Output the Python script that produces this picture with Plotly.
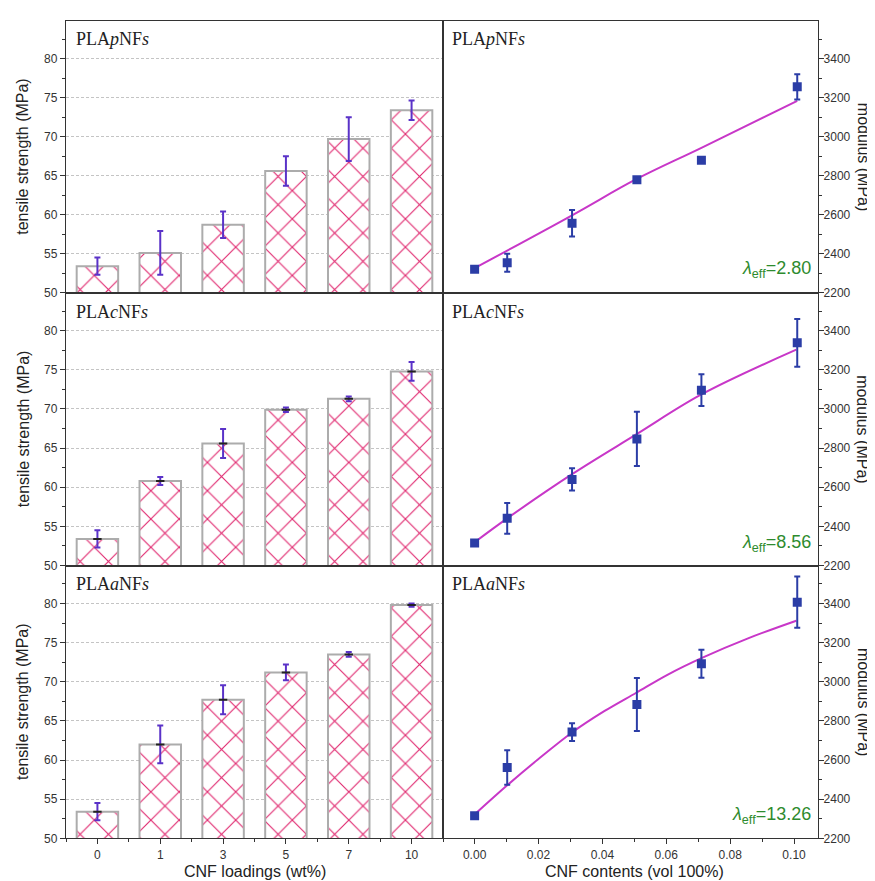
import plotly.graph_objects as go

# ---------------- data ----------------
categories = ['0', '1', '3', '5', '7', '10']

ts_p = [53.4, 55.1, 58.7, 65.6, 69.7, 73.4]
ts_p_err = [1.1, 2.8, 1.7, 1.9, 2.8, 1.25]
ts_c = [53.4, 60.8, 65.6, 69.9, 71.3, 74.8]
ts_c_err = [1.1, 0.5, 1.85, 0.3, 0.3, 1.2]
ts_a = [53.4, 62.0, 67.7, 71.2, 73.5, 79.8]
ts_a_err = [1.1, 2.4, 1.85, 1.0, 0.3, 0.2]

vol = [0.0, 0.0102, 0.0305, 0.0508, 0.071, 0.101]
mod_p = [2321, 2354, 2556, 2779, 2880, 3256]
mod_p_err = [10, 46, 68, 10, 8, 65]
mod_c = [2315, 2441, 2640, 2847, 3096, 3338]
mod_c_err = [10, 78, 57, 139, 81, 122]
mod_a = [2315, 2562, 2743, 2884, 3092, 3407]
mod_a_err = [10, 88, 45, 135, 72, 131]

fit_p_x = [0.0, 0.0305, 0.0506, 0.071, 0.101]
fit_p_y = [2326, 2597, 2782, 2943, 3184]
fit_c_x = [0.0, 0.0102, 0.0305, 0.0506, 0.071, 0.1007]
fit_c_y = [2319, 2441, 2667, 2870, 3074, 3303]
fit_a_x = [0.0, 0.0102, 0.0198, 0.0305, 0.0407, 0.0506, 0.0605, 0.071, 0.0856, 0.1007]
fit_a_y = [2322, 2471, 2603, 2741, 2851, 2944, 3037, 3121, 3222, 3312]

panel_names = ['PLA<i>p</i>NF<i>s</i>', 'PLA<i>c</i>NF<i>s</i>', 'PLA<i>a</i>NF<i>s</i>']
lambdas = ['2.80', '8.56', '13.26']

# ---------------- layout geometry ----------------
W, H = 875, 881
xl = (58 / W, 435 / W)
xr = (435 / W, 810 / W)
rows_px = [(13, 287), (287, 562), (562, 837)]
ydom = [(1 - b / H, 1 - t / H) for (t, b) in rows_px]

PINK = '#e0286f'
PURPLE = '#5a32c8'
BLUE = '#2b3da6'
MAGENTA = '#c837c8'
GREEN = '#2e8b2e'
AXC = '#333333'

fig = go.Figure()

bars = [(ts_p, ts_p_err), (ts_c, ts_c_err), (ts_a, ts_a_err)]
mods = [(mod_p, mod_p_err, fit_p_x, fit_p_y),
        (mod_c, mod_c_err, fit_c_x, fit_c_y),
        (mod_a, mod_a_err, fit_a_x, fit_a_y)]

idx = list(range(len(categories)))

for r in range(3):
    la = 2 * r + 1
    ra = 2 * r + 2
    lx, ly = ('x' if la == 1 else f'x{la}'), ('y' if la == 1 else f'y{la}')
    rx, ry = f'x{ra}', f'y{ra}'
    vals, errs = bars[r]
    fig.add_trace(go.Bar(
        x=idx, y=vals, width=0.66, xaxis=lx, yaxis=ly,
        marker=dict(color='white', line=dict(color='#acacac', width=2),
                    pattern=dict(shape='x', fgcolor=PINK, bgcolor='white', fgopacity=1,
                                 size=20, solidity=0.11)),
        error_y=dict(type='data', array=errs, color=PURPLE, thickness=2, width=3),
        showlegend=False))
    if r > 0:
        fig.add_trace(go.Scatter(
            x=idx, y=vals, mode='markers', xaxis=lx, yaxis=ly,
            marker=dict(symbol='line-ew', size=6, line=dict(color='#222', width=2)),
            showlegend=False))
    m, me, fx, fy = mods[r]
    fig.add_trace(go.Scatter(
        x=fx, y=fy, mode='lines', xaxis=rx, yaxis=ry,
        line=dict(color=MAGENTA, width=2, shape='spline', smoothing=1),
        showlegend=False))
    fig.add_trace(go.Scatter(
        x=vol, y=m, mode='markers', xaxis=rx, yaxis=ry,
        marker=dict(symbol='square', size=9, color=BLUE),
        error_y=dict(type='data', array=me, color=BLUE, thickness=2, width=3),
        showlegend=False))

tickfont = dict(family='Arial', size=12, color=AXC)
layout = dict(width=W, height=H, margin=dict(l=0, r=0, t=0, b=0), autosize=False,
              paper_bgcolor='white', plot_bgcolor='white')

for r in range(3):
    la = 2 * r + 1
    ra = 2 * r + 2
    bottom = (r == 2)
    kx = 'xaxis' if la == 1 else f'xaxis{la}'
    ky = 'yaxis' if la == 1 else f'yaxis{la}'
    ly_anchor = 'y' if la == 1 else f'y{la}'
    lx_anchor = 'x' if la == 1 else f'x{la}'
    layout[kx] = dict(domain=list(xl), anchor=ly_anchor, range=[-0.5, 5.5],
                      tickmode='array', tickvals=idx, ticktext=categories,
                      showticklabels=bottom, ticks='outside' if bottom else '',
                      ticklen=5, tickwidth=1, tickcolor=AXC,
                      minor=dict(tick0=0.5, dtick=1, ticks='outside' if bottom else '',
                                 ticklen=3, tickcolor=AXC),
                      showline=True, linecolor=AXC, linewidth=1.3, mirror=True,
                      showgrid=False, zeroline=False, tickfont=tickfont, fixedrange=True)
    layout[ky] = dict(domain=list(ydom[r]), anchor=lx_anchor, range=[50, 84.85],
                      tickmode='linear', tick0=50, dtick=5, ticks='outside',
                      ticklen=5, tickwidth=1, tickcolor=AXC,
                      minor=dict(tick0=50, dtick=2.5, ticks='outside', ticklen=3,
                                 tickcolor=AXC, showgrid=False),
                      showline=True, linecolor=AXC, linewidth=1.3, mirror=True,
                      showgrid=True, gridcolor='#c4c4c4', gridwidth=1, griddash='3px,2px',
                      zeroline=False, tickfont=tickfont, fixedrange=True)
    layout[f'xaxis{ra}'] = dict(domain=list(xr), anchor=f'y{ra}', range=[-0.0099, 0.1075],
                                tickmode='linear', tick0=0, dtick=0.02, tickformat='.2f',
                                showticklabels=bottom, ticks='outside' if bottom else '',
                                ticklen=5, tickwidth=1, tickcolor=AXC,
                                minor=dict(tick0=0, dtick=0.01, ticks='outside' if bottom else '',
                                           ticklen=3, tickcolor=AXC),
                                showline=True, linecolor=AXC, linewidth=1.3, mirror=True,
                                showgrid=False, zeroline=False, tickfont=tickfont, fixedrange=True)
    layout[f'yaxis{ra}'] = dict(domain=list(ydom[r]), anchor=f'x{ra}', side='right',
                                range=[2200, 3594], tickmode='linear', tick0=2200, dtick=200,
                                ticks='outside', ticklen=5, tickwidth=1, tickcolor=AXC,
                                ticklabelstandoff=-3,
                                minor=dict(tick0=2200, dtick=100, ticks='outside', ticklen=3,
                                           tickcolor=AXC, showgrid=False),
                                showline=True, linecolor=AXC, linewidth=1.3, mirror=True,
                                showgrid=False, zeroline=False, tickfont=tickfont, fixedrange=True)

fig.update_layout(**layout)

# ---------------- annotations ----------------
ann = []
label_y_px = [31, 306, 581]
lam_y_px = [264, 540, 814]
for r in range(3):
    for x_px in (66, 442):
        ann.append(dict(x=x_px / W, y=1 - label_y_px[r] / H, xref='paper', yref='paper',
                        text=panel_names[r], showarrow=False, xanchor='left', yanchor='middle',
                        font=dict(family='Liberation Serif', size=18, color='#222')))
    ann.append(dict(x=805 / W, y=1 - lam_y_px[r] / H, xref='paper', yref='paper',
                    text='<i>λ</i><sub>eff</sub>=' + lambdas[r], showarrow=False,
                    xanchor='right', yanchor='middle',
                    font=dict(family='Arial', size=18, color=GREEN)))
    cy = (rows_px[r][0] + rows_px[r][1]) / 2
    ann.append(dict(x=15 / W, y=1 - cy / H, xref='paper', yref='paper',
                    text='tensile strength (MPa)', showarrow=False, textangle=-90,
                    xanchor='center', yanchor='middle',
                    font=dict(family='Arial', size=16, color='#222')))
    ann.append(dict(x=855 / W, y=1 - cy / H, xref='paper', yref='paper',
                    text='modulus (MPa)', showarrow=False, textangle=90,
                    xanchor='center', yanchor='middle',
                    font=dict(family='Arial', size=16, color='#222')))

ann.append(dict(x=247 / W, y=1 - 870 / H, xref='paper', yref='paper',
                text='CNF loadings (wt%)', showarrow=False, xanchor='center', yanchor='middle',
                font=dict(family='Arial', size=16, color='#222')))
ann.append(dict(x=626 / W, y=1 - 870 / H, xref='paper', yref='paper',
                text='CNF contents (vol 100%)', showarrow=False, xanchor='center', yanchor='middle',
                font=dict(family='Arial', size=16, color='#222')))
fig.update_layout(annotations=ann)

fig.write_html('out.html')
